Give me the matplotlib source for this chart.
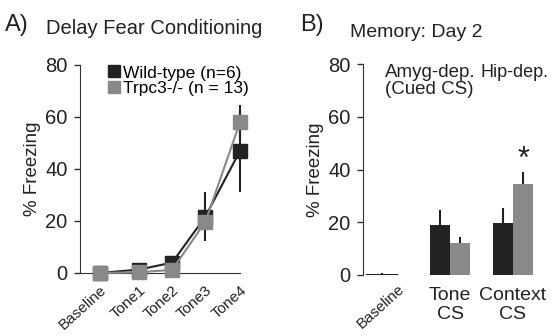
import matplotlib
matplotlib.use("Agg")
import matplotlib.pyplot as plt
from matplotlib.lines import Line2D
import numpy as np

plt.rcParams['font.family'] = ['Liberation Sans', 'DejaVu Sans']

# Panel A: delay fear conditioning
a_labels = ["Baseline", "Tone1", "Tone2", "Tone3", "Tone4"]
a_pos = [0, 1.18, 2.18, 3.18, 4.22]
wt_mean = [0, 1.3, 4, 21.7, 47]
wt_err = [0, 0.5, 1, 9.5, 15.7]
ko_mean = [0, 0.3, 1.2, 19.7, 58]
ko_err = [0, 0.3, 0.5, 3, 6.8]

# Panel B: memory day 2
b_labels = ["Baseline", "Tone\nCS", "Context\nCS"]
b_pos = [1.73, 4.35, 7.5]
b_width = [1.6, 1.0, 1.0]
wt_bar = [0.3, 18.9, 19.7]
wt_bar_err = [0.3, 5.6, 5.7]
ko_bar = [0.15, 12, 34.4]
ko_bar_err = [0, 2.4, 4.7]

dark = "#222222"
grey = "#89898b"
axc = "#333333"
txt = "#222222"

fig = plt.figure(figsize=(5.53, 3.36), dpi=100)
axA = fig.add_axes([80 / 553, 63 / 336, 160 / 553, 208 / 336])
axB = fig.add_axes([363 / 553, 61 / 336, 177 / 553, 211 / 336])

for ax in (axA, axB):
    ax.set_ylim(0, 80)
    ax.set_yticks([0, 20, 40, 60, 80])
    ax.tick_params(axis='y', direction='out', length=4, width=1, colors=axc,
                   labelsize=14.5, labelcolor=txt, pad=5)
    ax.tick_params(axis='x', length=0)
    for s in ('top', 'right'):
        ax.spines[s].set_visible(False)
    ax.spines['left'].set_color(axc)
    ax.set_ylabel("% Freezing", fontsize=13.5, color=txt, labelpad=3)

# --- A ---
for mean, err in ((wt_mean, wt_err), (ko_mean, ko_err)):
    axA.errorbar(a_pos, mean, yerr=err, fmt='none', ecolor=dark, elinewidth=1.5,
                 capsize=0, zorder=2, clip_on=False)
axA.plot(a_pos, wt_mean, '-s', color=dark, lw=1.5, ms=10, mec=dark, zorder=3, clip_on=False)
axA.plot(a_pos, ko_mean, '-s', color=grey, lw=1.5, ms=10, mec=grey, zorder=4, clip_on=False)
axA.set_xlim(-0.59, 4.12)
axA.spines['bottom'].set_color(axc)
axA.set_xticks(a_pos)
axA.set_xticklabels(a_labels, rotation=42, ha='right', va='top', rotation_mode='anchor',
                    fontsize=11, color=txt)
axA.tick_params(axis='x', pad=7)
handles = [Line2D([], [], ls='none', marker='s', ms=9, color=dark),
           Line2D([], [], ls='none', marker='s', ms=9, color=grey)]
axA.legend(handles, ["Wild-type (n=6)", "Trpc3-/- (n = 13)"], loc='upper left',
           bbox_to_anchor=(0.13, 1.04), frameon=False, fontsize=12.5,
           handlelength=0.55, handletextpad=0.2, labelspacing=0.0, borderpad=0)
fig.text(5 / 553, 1 - 31 / 336, "A)", fontsize=17, color=txt)
fig.text(46 / 553, 1 - 34 / 336, "Delay Fear Conditioning", fontsize=14.5, color=txt)

# --- B ---
xb = np.array(b_pos)
wb = np.array(b_width)
axB.bar(xb - wb / 2, wt_bar, width=wb, color=dark, zorder=2)
axB.bar(xb + wb / 2, ko_bar, width=wb, color=grey, zorder=2)
axB.errorbar(xb - wb / 2, wt_bar, yerr=[np.zeros(3), wt_bar_err], fmt='none',
             ecolor=dark, elinewidth=1.5, capsize=0, zorder=1)
axB.errorbar(xb + wb / 2, ko_bar, yerr=[np.zeros(3), ko_bar_err], fmt='none',
             ecolor=dark, elinewidth=1.5, capsize=0, zorder=1)
axB.set_xlim(0, 8.85)
axB.spines['bottom'].set_visible(False)
axB.set_xticks(b_pos)
axB.set_xticklabels(b_labels, fontsize=14, color=txt, linespacing=1.1)
axB.tick_params(axis='x', pad=5)
blabs = axB.get_xticklabels()
blabs[0].set(rotation=42, ha='right', va='top', rotation_mode='anchor', fontsize=11)
for lab in blabs[1:]:
    lab.set_y(-0.025)
axB.text(1.1, 80, "Amyg-dep.\n(Cued CS)", fontsize=13.5, color=txt, va='top',
         linespacing=1.0)
axB.text(5.85, 80, "Hip-dep.", fontsize=13, color=txt, va='top')
axB.text(b_pos[2] + 0.5, ko_bar[2] + ko_bar_err[2] - 1, "*", fontsize=22,
         ha='center', va='bottom', color=txt)
fig.text(300 / 553, 1 - 31 / 336, "B)", fontsize=17, color=txt)
fig.text(350 / 553, 1 - 37 / 336, "Memory: Day 2", fontsize=14, color=txt)

fig.savefig("out.png", dpi=100)
